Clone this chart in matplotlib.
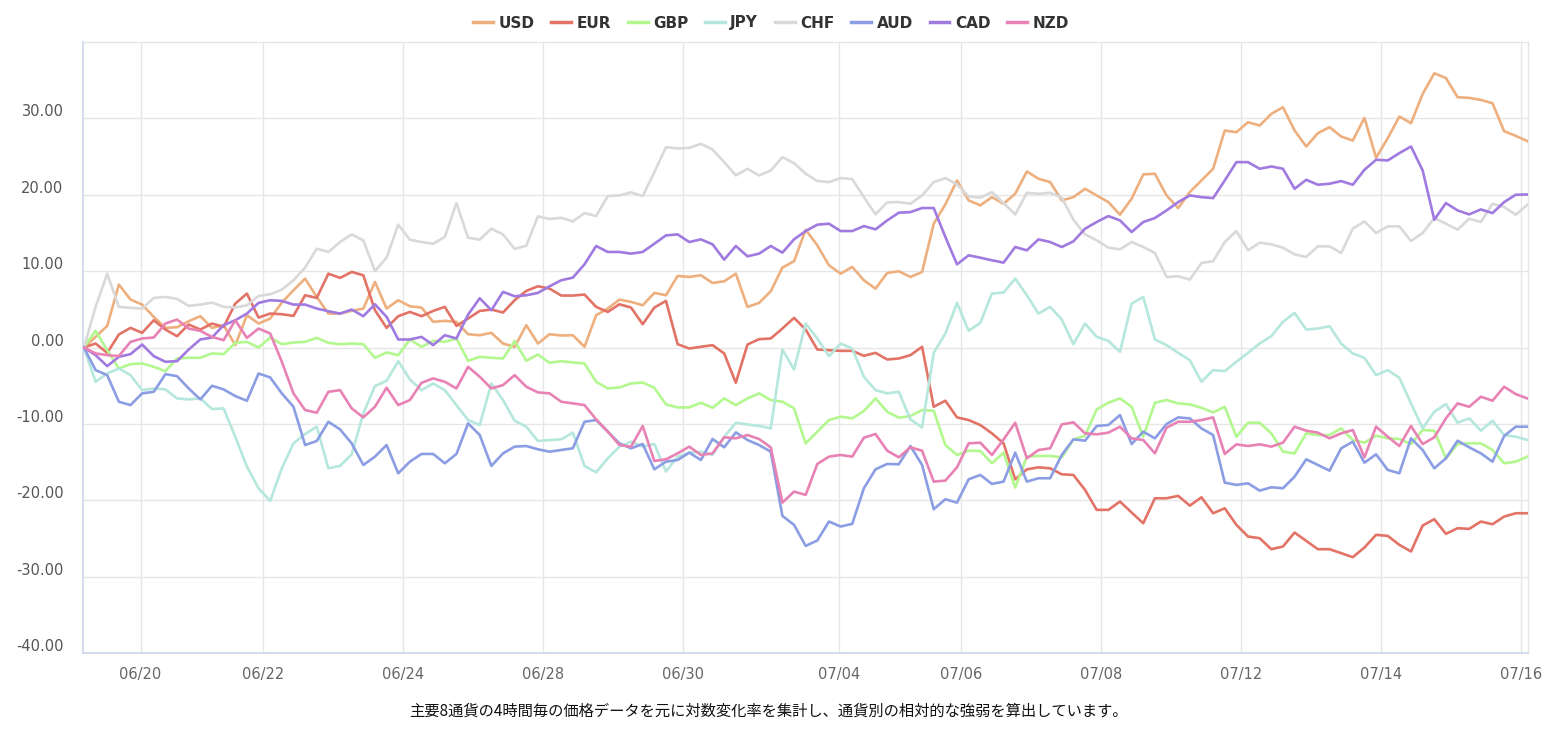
import matplotlib
matplotlib.use("Agg")
import matplotlib.pyplot as plt
import matplotlib.transforms as mtransforms
import numpy as np

plt.rcParams['font.family'] = ['DejaVu Sans']

currencies = ["USD", "EUR", "GBP", "JPY", "CHF", "AUD", "CAD", "NZD"]
colors = ["#eeaf7e", "#e27366", "#b3f78f", "#b5e7dd", "#d9d9d9", "#8b9de3", "#a07ae0", "#e882b4"]

USD = [0, 1.39, 2.83, 8.24, 6.28, 5.62, 4.01, 2.57, 2.66, 3.44, 4.10, 2.57, 2.92, 0.31, 4.23, 3.14, 3.79, 5.88, 7.49, 9.02, 6.62, 4.44,
       4.44, 4.80, 5.10, 8.58, 5.10, 6.19, 5.40, 5.23, 3.36, 3.49, 3.36, 1.74, 1.61, 1.92, 0.52, 0.09, 2.92, 0.52, 1.74, 1.57,
       1.61, 0.09, 4.23, 5.10, 6.27, 5.97, 5.53, 7.15, 6.84, 9.37, 9.24, 9.46, 8.45, 8.67, 9.67, 5.32, 5.84, 7.36, 10.46, 11.29, 15.42,
       13.38, 10.76, 9.67, 10.55, 8.80, 7.71, 9.76, 9.98, 9.24, 9.89, 16.21, 18.74, 21.87, 19.26, 18.61, 19.69, 18.82, 20.13, 23.05, 22.09,
       21.66, 19.26, 19.69, 20.78, 19.91, 19.04, 17.39, 19.48, 22.66, 22.75, 19.91, 18.26, 20.35, 21.87, 23.40, 28.41, 28.19, 29.50, 29.06, 30.59, 31.46,
       28.41, 26.32, 28.06, 28.85, 27.63, 27.10, 30.07, 24.84, 27.41, 30.24, 29.37, 33.20, 35.90, 35.29, 32.77, 32.68, 32.42, 31.98, 28.32, 27.71, 27.02]

EUR = [0, 0.52, -0.70, 1.70, 2.57, 1.92, 3.57, 2.35, 1.48, 3.01, 2.35, 3.14, 2.70, 5.75, 7.06, 3.92, 4.44, 4.36, 4.14, 6.84, 6.49, 9.67,
       9.11, 9.89, 9.46, 4.88, 2.57, 4.10, 4.66, 4.10, 4.79, 5.32, 2.83, 3.79, 4.79, 4.97, 4.58, 6.19, 7.41, 8.02, 7.71, 6.80,
       6.80, 6.93, 5.32, 4.66, 5.66, 5.23, 3.05, 5.23, 6.10, 0.44, -0.13, 0.09, 0.31, -0.78, -4.62, 0.39, 1.09, 1.18, 2.48, 3.88, 2.35,
       -0.26, -0.35, -0.44, -0.44, -1.09, -0.70, -1.57, -1.44, -1.0, 0.09, -7.76, -6.97, -9.15, -9.50, -10.15, -11.24, -12.55, -17.26, -15.95, -15.69,
       -15.82, -16.60, -16.69, -18.65, -21.26, -21.26, -20.17, -21.61, -23.01, -19.74, -19.74, -19.43, -20.70, -19.61, -21.70, -21.05, -23.22, -24.75, -24.97, -26.41, -26.06,
       -24.23, -25.32, -26.41, -26.41, -26.93, -27.45, -26.19, -24.53, -24.66, -25.84, -26.71, -23.31, -22.48, -24.40, -23.66, -23.75, -22.79, -23.14, -22.14, -21.70, -21.70]

GBP = [0, 2.18, -0.35, -2.75, -2.18, -2.09, -2.53, -3.09, -1.44, -1.35, -1.35, -0.78, -0.87, 0.61, 0.74, 0, 1.31, 0.44, 0.65, 0.74, 1.26, 0.61,
       0.44, 0.52, 0.44, -1.35, -0.65, -1.0, 1.05, 0.09, 0.87, 0.74, 1.18, -1.74, -1.22, -1.35, -1.44, 0.87, -1.74, -0.92, -2.0, -1.79,
       -1.96, -2.09, -4.49, -5.36, -5.23, -4.71, -4.58, -5.27, -7.45, -7.84, -7.84, -7.23, -7.89, -6.67, -7.54, -6.67, -6.01, -6.88, -7.10, -7.97, -12.55,
       -11.02, -9.50, -9.06, -9.28, -8.32, -6.67, -8.41, -9.19, -8.98, -8.19, -8.28, -12.77, -14.07, -13.51, -13.55, -15.16, -13.77, -18.34, -14.29, -14.20,
       -14.20, -14.38, -12.03, -11.55, -8.10, -7.23, -6.67, -7.76, -11.68, -7.23, -6.88, -7.32, -7.45, -7.89, -8.50, -7.76, -11.68, -9.85, -9.85, -11.24, -13.64,
       -13.86, -11.24, -11.46, -11.46, -10.59, -12.11, -12.46, -11.55, -11.89, -11.98, -12.64, -10.81, -10.89, -14.51, -12.64, -12.55, -12.55, -13.42, -15.16, -14.95, -14.29]

JPY = [0, -4.49, -3.40, -2.75, -3.62, -5.58, -5.36, -5.49, -6.67, -6.80, -6.67, -8.06, -7.97, -11.68, -15.6, -18.43, -20.09, -15.82, -12.55, -11.33, -10.37, -15.82,
       -15.5, -14.0, -8.63, -5.05, -4.36, -1.79, -4.18, -5.58, -4.71, -5.58, -7.54, -9.50, -10.15, -4.71, -6.88, -9.59, -10.37, -12.24, -12.11, -12.03,
       -11.15, -15.51, -16.34, -14.51, -12.98, -12.33, -12.98, -12.64, -16.25, -14.29, -13.77, -13.64, -14.07, -11.68, -9.85, -10.07, -10.28, -10.59, -0.26, -2.88, 3.14,
       1.18, -1.13, 0.52, -0.13, -3.83, -5.58, -6.01, -5.80, -9.41, -10.46, -0.70, 1.83, 5.84, 2.18, 3.22, 7.06, 7.19, 9.02, 6.84, 4.44,
       5.32, 3.66, 0.44, 3.14, 1.39, 0.87, -0.57, 5.75, 6.62, 1.05, 0.31, -0.70, -1.66, -4.49, -2.96, -3.09, -1.87, -0.70, 0.52, 1.48, 3.36,
       4.53, 2.35, 2.48, 2.79, 0.52, -0.78, -1.35, -3.62, -2.96, -3.97, -7.32, -10.59, -8.41, -7.41, -9.85, -9.28, -10.89, -9.59, -11.46, -11.68, -12.11]

CHF = [0, 5.32, 9.67, 5.32, 5.19, 5.10, 6.49, 6.62, 6.36, 5.45, 5.62, 5.88, 5.32, 5.23, 5.53, 6.75, 6.97, 7.58, 8.80, 10.46, 12.94, 12.51,
       13.81, 14.81, 14.03, 10.02, 11.76, 16.08, 14.12, 13.81, 13.59, 14.47, 18.91, 14.38, 14.12, 15.56, 14.81, 12.90, 13.33, 17.17, 16.82, 16.99,
       16.51, 17.60, 17.21, 19.83, 19.91, 20.31, 19.83, 22.96, 26.23, 26.06, 26.14, 26.67, 25.93, 24.27, 22.53, 23.40, 22.53, 23.18, 24.92, 24.14, 22.75,
       21.79, 21.66, 22.18, 22.05, 19.69, 17.43, 19.00, 19.04, 18.82, 19.91, 21.66, 22.18, 21.35, 19.78, 19.61, 20.35, 18.91, 17.43, 20.26, 20.13,
       20.26, 19.61, 16.73, 14.81, 14.03, 13.07, 12.85, 13.81, 13.16, 12.37, 9.24, 9.32, 8.89, 11.07, 11.29, 13.81, 15.25, 12.72, 13.73, 13.51, 13.07,
       12.20, 11.85, 13.25, 13.25, 12.37, 15.56, 16.51, 14.99, 15.86, 15.86, 13.94, 14.99, 16.95, 16.21, 15.42, 16.86, 16.43, 18.82, 18.39, 17.39, 18.69]

AUD = [0, -2.96, -3.62, -7.10, -7.54, -6.01, -5.80, -3.49, -3.75, -5.36, -6.80, -5.01, -5.49, -6.36, -6.97, -3.40, -3.92, -6.01, -7.76, -12.77, -12.24, -9.72,
       -10.72, -12.55, -15.38, -14.29, -12.77, -16.47, -14.95, -13.94, -13.94, -15.16, -13.94, -9.93, -11.46, -15.51, -13.86, -12.98, -12.90, -13.33, -13.64, -13.42,
       -13.20, -9.72, -9.50, -11.02, -12.55, -13.20, -12.64, -15.95, -14.95, -14.73, -13.77, -14.73, -11.98, -13.07, -11.11, -12.11, -12.77, -13.64, -22.05, -23.22, -25.97,
       -25.27, -22.79, -23.44, -23.09, -18.43, -15.95, -15.25, -15.29, -12.90, -15.38, -21.18, -19.87, -20.31, -17.26, -16.69, -17.86, -17.56, -13.77, -17.56, -17.12,
       -17.12, -14.07, -12.03, -12.20, -10.28, -10.15, -8.85, -12.64, -11.02, -11.89, -10.02, -9.15, -9.28, -10.59, -11.46, -17.69, -17.99, -17.78, -18.74, -18.30, -18.43,
       -16.91, -14.64, -15.38, -16.12, -13.20, -12.33, -15.08, -13.99, -16.03, -16.47, -11.89, -13.42, -15.82, -14.51, -12.20, -13.07, -13.86, -14.95, -11.59, -10.37, -10.37]

CAD = [0, -1.0, -2.44, -1.22, -0.87, 0.39, -1.13, -1.87, -1.79, -0.26, 1.05, 1.31, 2.92, 3.57, 4.44, 5.84, 6.19, 6.10, 5.62, 5.62, 5.10, 4.75,
       4.44, 4.97, 4.10, 5.66, 4.01, 1.05, 1.05, 1.39, 0.31, 1.61, 1.18, 4.31, 6.45, 4.88, 7.28, 6.71, 6.84, 7.15, 8.02, 8.80,
       9.15, 10.89, 13.29, 12.51, 12.51, 12.29, 12.51, 13.59, 14.68, 14.81, 13.81, 14.16, 13.51, 11.50, 13.29, 11.94, 12.29, 13.29, 12.42, 14.16, 15.25,
       16.08, 16.21, 15.25, 15.25, 15.90, 15.47, 16.64, 17.65, 17.73, 18.26, 18.26, 14.47, 10.89, 12.07, 11.76, 11.42, 11.11, 13.16, 12.72, 14.16,
       13.81, 13.16, 13.90, 15.56, 16.43, 17.21, 16.64, 15.12, 16.43, 16.95, 17.95, 19.04, 19.91, 19.69, 19.56, 21.87, 24.27, 24.27, 23.40, 23.70, 23.40,
       20.78, 21.96, 21.31, 21.44, 21.79, 21.31, 23.27, 24.58, 24.49, 25.45, 26.32, 23.18, 16.73, 18.91, 17.95, 17.43, 18.08, 17.60, 19.04, 20.00, 20.04]

NZD = [0, -0.78, -1.0, -1.13, 0.74, 1.18, 1.31, 3.14, 3.66, 2.48, 2.18, 1.39, 0.96, 3.57, 1.26, 2.48, 1.83, -1.87, -6.01, -8.19, -8.54, -5.80,
       -5.58, -7.97, -9.15, -7.76, -5.27, -7.54, -6.88, -4.62, -4.05, -4.49, -5.36, -2.53, -3.83, -5.36, -4.92, -3.62, -5.14, -5.88, -6.01, -7.10,
       -7.32, -7.54, -9.41, -11.02, -12.77, -12.98, -10.28, -14.86, -14.64, -13.86, -12.98, -14.07, -13.86, -11.76, -11.89, -11.46, -11.98, -13.07, -20.31, -18.87, -19.30,
       -15.25, -14.29, -14.07, -14.29, -11.81, -11.33, -13.51, -14.38, -13.07, -13.51, -17.56, -17.43, -15.69, -12.55, -12.46, -14.07, -12.03, -9.85, -14.51, -13.42,
       -13.20, -10.07, -9.80, -11.24, -11.37, -11.15, -10.37, -11.89, -12.11, -13.86, -10.50, -9.72, -9.72, -9.50, -9.15, -13.94, -12.68, -12.90, -12.68, -12.98, -12.46,
       -10.37, -10.89, -11.15, -11.89, -11.24, -10.81, -14.38, -10.37, -11.68, -12.90, -10.28, -12.64, -11.76, -9.28, -7.32, -7.76, -6.45, -6.97, -5.14, -6.10, -6.67]

series = [USD, EUR, GBP, JPY, CHF, AUD, CAD, NZD]

tick_labels = ["06/20", "06/22", "06/24", "06/28", "06/30", "07/04", "07/06", "07/08", "07/12", "07/14", "07/16"]
tick_pos = [4.87, 15.40, 27.42, 39.45, 51.47, 64.87, 75.38, 87.41, 99.43, 111.46, 123.48]

caption = "主要8通貨の4時間毎の価格データを元に対数変化率を集計し、通貨別の相対的な強弱を算出しています。"

W, H = 1546, 738
fig = plt.figure(figsize=(W / 100, H / 100), dpi=100)
ax = fig.add_axes([83 / W, 1 - 653 / H, (1528 - 83) / W, (653 - 42) / H])

x = np.arange(len(USD))
handles = []
for name, col, vals in zip(currencies, colors, series):
    ln, = ax.plot(x, vals, color=col, lw=1.9, label=name, solid_joinstyle='round', zorder=3)
    handles.append(ln)

ax.set_xlim(-0.08, 124.05)
ax.set_ylim(-40, 40)
yt = np.arange(-40, 40, 10)
ax.set_yticks(yt)
ax.set_yticklabels([f"{v:.2f}" for v in yt])
ax.set_xticks(tick_pos)
ax.set_xticklabels(tick_labels)
ax.grid(True, color="#e6e6e6", lw=1.0, zorder=0)
ax.tick_params(axis='both', length=0, labelsize=10.5, colors="#666666")
ax.tick_params(axis='y', pad=14, labelcolor="#555555")
ax.tick_params(axis='x', pad=10)
offset = mtransforms.ScaledTranslation(0, 8 / 100, fig.dpi_scale_trans)
for lab in ax.get_yticklabels():
    lab.set_transform(lab.get_transform() + offset)
for s in ["top", "right"]:
    ax.spines[s].set_color("#e6e6e6")
    ax.spines[s].set_linewidth(1.0)
for s in ["left", "bottom"]:
    ax.spines[s].set_color("#ccd6eb")
    ax.spines[s].set_linewidth(1.2)

leg = fig.legend(handles=handles, labels=currencies, loc="center", bbox_to_anchor=(771 / W, 1 - 23 / H),
                 ncol=8, frameon=False, handlelength=1.3, handletextpad=0.35, columnspacing=1.1,
                 prop={'weight': 'bold', 'size': 11})
for t in leg.get_texts():
    t.set_color("#333333")
for lh in leg.get_lines():
    lh.set_linewidth(2.5)

fig.text(768 / W, 1 - 711 / H, caption, ha="center", va="center", fontsize=11,
         family=["Noto Sans CJK JP", "DejaVu Sans"], color="#111111")

fig.savefig("out.png", dpi=100)
